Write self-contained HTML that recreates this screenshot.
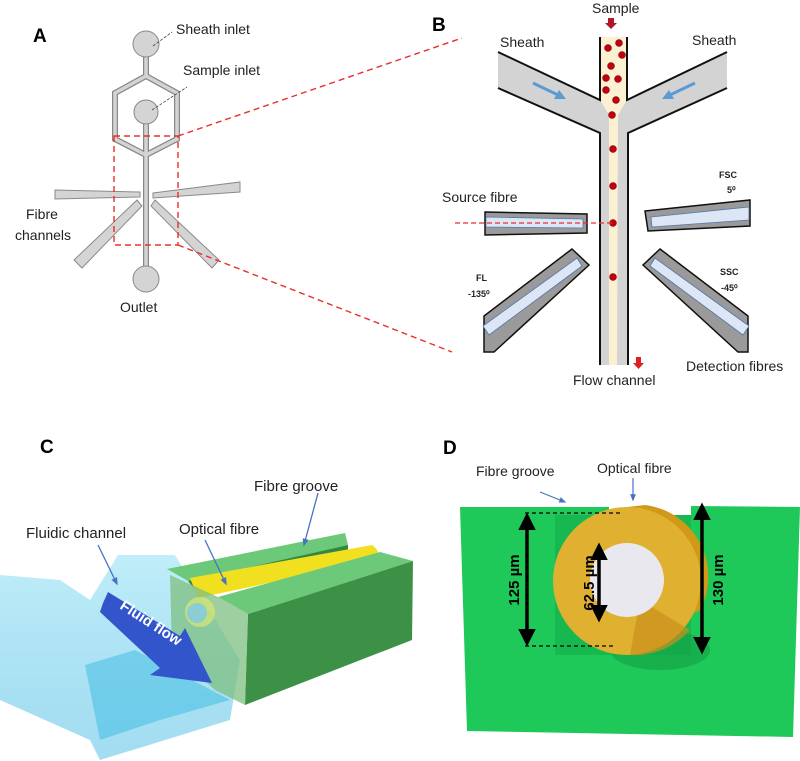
<!DOCTYPE html>
<html><head><meta charset="utf-8"><style>
body{margin:0;background:#fff}
svg{display:block;font-family:"Liberation Sans",sans-serif}
</style></head><body>
<svg width="800" height="761" viewBox="0 0 800 761" xmlns="http://www.w3.org/2000/svg">
<defs>
<marker id="bh" viewBox="0 0 10 10" refX="8" refY="5" markerWidth="5" markerHeight="5" orient="auto-start-reverse"><path d="M0,0L10,5L0,10z" fill="#000"/></marker>
<marker id="ba" viewBox="0 0 10 10" refX="8" refY="5" markerWidth="6" markerHeight="6" orient="auto"><path d="M0,1L10,5L0,9z" fill="#4472c4"/></marker>
<linearGradient id="cy" x1="0" y1="0" x2="0" y2="1"><stop offset="0" stop-color="#8fe0f5" stop-opacity=".7"/><stop offset="1" stop-color="#1aa9dc" stop-opacity=".5"/></linearGradient>
</defs>

<!-- Panel A -->
<text x="33" y="42" font-size="19" font-weight="bold">A</text>
<g fill="#d4d4d4" stroke="#8a8a8a" stroke-width="1">
<polygon points="55,190 140,192 140,197 55,199"/>
<polygon points="153,193 240,182 240,192 153,198"/>
<polygon points="137,200 142,206 82,268 74,260"/>
<polygon points="155,200 151,206 212,268 219,260"/>
</g>
<g fill="none" stroke="#888" stroke-width="6" stroke-linejoin="miter">
<polygon points="146,76 115,93 115,139 146,155 177,139 177,93"/>
<line x1="146" y1="57" x2="146" y2="76"/>
<line x1="146" y1="124" x2="146" y2="268"/>
</g>
<g fill="none" stroke="#d4d4d4" stroke-width="3.5">
<polygon points="146,76 115,93 115,139 146,155 177,139 177,93"/>
<line x1="146" y1="56" x2="146" y2="76"/>
<line x1="146" y1="123" x2="146" y2="268"/>
</g>
<g fill="#d4d4d4" stroke="#888" stroke-width="1">
<circle cx="146" cy="44" r="13"/><circle cx="146" cy="112" r="12"/><circle cx="146" cy="279" r="13"/>
</g>
<g stroke="#444" stroke-width="0.8" stroke-dasharray="3,1.5"><line x1="153" y1="46" x2="172" y2="32"/><line x1="152" y1="110" x2="187" y2="87"/></g>
<g font-size="14" fill="#222">
<text x="176" y="34">Sheath inlet</text>
<text x="183" y="75">Sample inlet</text>
<text x="26" y="219">Fibre</text><text x="15" y="240">channels</text>
<text x="120" y="312">Outlet</text>
</g>
<g fill="none" stroke="#e8302a" stroke-width="1.4" stroke-dasharray="6,4">
<rect x="114" y="136" width="64" height="109"/>
<line x1="178" y1="136" x2="462" y2="38"/>
<line x1="178" y1="245" x2="452" y2="352"/>
</g>

<!-- Panel B -->
<text x="432" y="31" font-size="19" font-weight="bold">B</text>
<g font-size="14" fill="#222">
<text x="592" y="13">Sample</text>
<text x="500" y="47">Sheath</text>
<text x="692" y="45">Sheath</text>
<text x="442" y="202">Source fibre</text>
<text x="686" y="371">Detection fibres</text>
<text x="573" y="385">Flow channel</text>
</g>
<g font-size="9" font-weight="bold" fill="#222">
<text x="719" y="178">FSC</text><text x="727" y="193">5⁰</text>
<text x="476" y="281">FL</text><text x="468" y="297">-135⁰</text>
<text x="720" y="275">SSC</text><text x="721" y="291">-45⁰</text>
</g>
<path d="M608,18h6v5h3l-6,6l-6,-6h3z" fill="#b0182a"/>
<path d="M636,357h5v6h3l-5.5,6l-5.5,-6h3z" fill="#e02020"/>
<!-- channel -->
<path d="M498,52 L600,100 L600,37 L627,37 L627,100 L727,52 L727,88 L628,133 L628,365 L600,365 L600,133 L498,88 Z" fill="#d3d3d3"/>
<path d="M600,37 L627,37 L627,100 L618,115 L617,365 L609,365 L609,115 L600,100 Z" fill="#fbf0d2"/>
<g stroke="#111" stroke-width="2" fill="none">
<polyline points="498,52 600,100 600,37"/><polyline points="727,52 627,100 627,37"/>
<polyline points="498,88 600,133 600,365"/><polyline points="727,88 628,133 628,365"/>
</g>
<g stroke="#5b9bd5" stroke-width="3" fill="#5b9bd5">
<line x1="533" y1="83" x2="558" y2="95"/><polygon points="566,99 554,99 559,90" stroke="none"/>
<line x1="695" y1="83" x2="670" y2="95"/><polygon points="662,99 674,99 669,90" stroke="none"/>
</g>
<g fill="#c00010" stroke="#700" stroke-width=".5">
<circle cx="608" cy="48" r="3.5"/><circle cx="619" cy="43" r="3.5"/><circle cx="622" cy="55" r="3.5"/><circle cx="611" cy="66" r="3.5"/><circle cx="606" cy="78" r="3.5"/><circle cx="618" cy="79" r="3.5"/><circle cx="606" cy="90" r="3.5"/><circle cx="616" cy="100" r="3.5"/><circle cx="612" cy="115" r="3.5"/><circle cx="613" cy="149" r="3.5"/><circle cx="613" cy="186" r="3.5"/><circle cx="613" cy="223" r="3.5"/><circle cx="613" cy="277" r="3.5"/>
</g>
<!-- fibres -->
<g stroke="#111" stroke-width="1.5">
<polygon points="485,212 587,214 587,233 485,235" fill="#9a9a9a"/>
<polygon points="645,211 750,200 750,226 648,231" fill="#9a9a9a"/>
<polygon points="572,249 589,265 494,352 484,352 484,316" fill="#9a9a9a"/>
<polygon points="660,249 643,265 738,352 748,352 748,316" fill="#9a9a9a"/>
</g>
<g fill="#dce6f4" stroke="#5577aa" stroke-width="0.8">
<polygon points="486,217 583,219 583,228 486,227"/>
<polygon points="651,217 749,207 749,220 652,227"/>
<polygon points="577,258 582,266 489,335 483,326"/>
<polygon points="655,258 650,266 743,335 749,326"/>
</g>
<line x1="455" y1="223" x2="612" y2="223" stroke="#e8302a" stroke-width="1.3" stroke-dasharray="5,3"/>

<!-- Panel C -->
<text x="40" y="453" font-size="19" font-weight="bold">C</text>
<path d="M0,575 L60,580 L90,600 L118,555 L175,555 L240,660 L230,720 L100,760 L90,740 L0,700 Z" fill="url(#cy)" opacity=".8"/>
<path d="M85,665 L135,650 L230,700 L160,720 L100,740 Z" fill="#2cb6e0" opacity=".45"/>
<polygon points="167,569 345,533 348,545 188,581" fill="#6cc97a"/>
<polygon points="188,581 348,545 348,560 200,596" fill="#2f8a3e"/>
<path d="M190,578 L372,545 Q382,552 376,560 L198,598 Z" fill="#f0e020"/>
<polygon points="218,597 380,552 413,561 248,614" fill="#6cc97a"/>
<polygon points="248,614 413,561 412,640 245,705" fill="#3c9147"/>
<polygon points="170,575 218,597 248,614 245,705 215,690 172,650" fill="#7dbf80" opacity=".75"/>
<circle cx="200" cy="612" r="15" fill="#d8e870" opacity=".7"/>
<circle cx="197" cy="613" r="10" fill="#7cc8e8" opacity=".8"/>
<polygon points="103,603 108,592 180,636 185,628 212,683 150,675 160,668 100,612" fill="#3355cc"/>
<text transform="translate(119,608) rotate(33)" font-size="15" font-weight="bold" fill="#fff">Fluid flow</text>
<g font-size="15" fill="#222">
<text x="254" y="491">Fibre groove</text>
<text x="179" y="534">Optical fibre</text>
<text x="26" y="538">Fluidic channel</text>
</g>
<g stroke="#4472c4" stroke-width="1.3" marker-end="url(#ba)">
<line x1="318" y1="493" x2="304" y2="545"/><line x1="205" y1="540" x2="226" y2="584"/><line x1="98" y1="545" x2="117" y2="584"/>
</g>

<!-- Panel D -->
<text x="443" y="454" font-size="19" font-weight="bold">D</text>
<g font-size="14" fill="#222"><text x="476" y="476">Fibre groove</text><text x="597" y="473">Optical fibre</text></g>
<g stroke="#4472c4" stroke-width="1.2" marker-end="url(#ba)"><line x1="540" y1="492" x2="565" y2="502"/><line x1="633" y1="478" x2="633" y2="500"/></g>
<polygon points="460,507 609,507 609,650 691,650 691,506 800,507 793,737 467,731" fill="#1ec95a"/>
<rect x="555" y="515" width="136" height="140" fill="#18b850"/>
<ellipse cx="660" cy="650" rx="50" ry="20" fill="#12a045" opacity=".6"/>
<path d="M627,507 L645,505 A72,72 0 0 1 700,610 L680,620 Z" fill="#d09a18"/>
<circle cx="627" cy="581" r="74" fill="#e0b030"/>
<path d="M640,600 L690,630 A74,74 0 0 1 630,655 Z" fill="#c8901c" opacity=".7"/>
<circle cx="627" cy="580" r="37" fill="#e8e8ee"/>
<g stroke="#000" stroke-dasharray="4,3" stroke-width="1.2"><line x1="525" y1="513" x2="620" y2="513"/><line x1="525" y1="646" x2="615" y2="646"/></g>
<g stroke="#000" stroke-width="3.5" marker-start="url(#bh)" marker-end="url(#bh)">
<line x1="527" y1="516" x2="527" y2="643"/><line x1="599" y1="546" x2="599" y2="619"/><line x1="702" y1="506" x2="702" y2="651"/>
</g>
<g font-size="15" font-weight="bold" fill="#000">
<text transform="translate(519,580) rotate(-90)" text-anchor="middle">125 µm</text>
<text transform="translate(594,583) rotate(-90)" text-anchor="middle">62.5 µm</text>
<text transform="translate(723,580) rotate(-90)" text-anchor="middle">130 µm</text>
</g>
</svg>
</body></html>
